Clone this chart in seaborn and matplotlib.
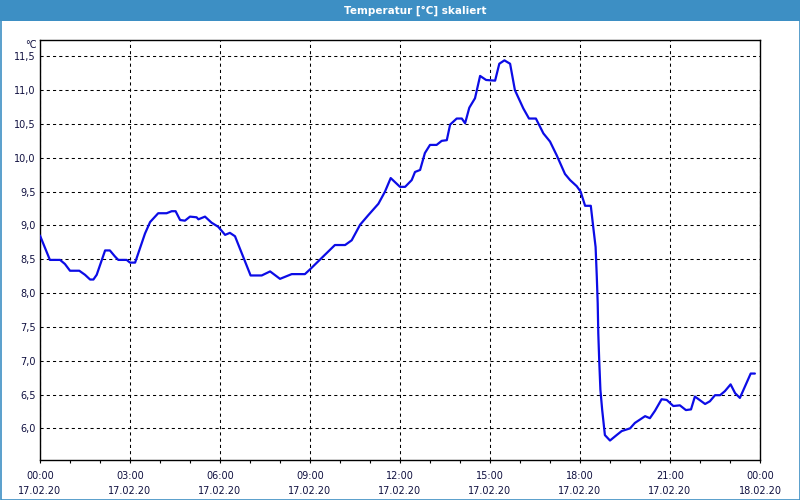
import matplotlib
matplotlib.use("Agg")
import matplotlib.pyplot as plt
import seaborn as sns
import pandas as pd
from matplotlib.patches import Rectangle
from matplotlib.ticker import FixedLocator, FixedFormatter, MultipleLocator

# ---- data ----
hours = [0.0, 0.33, 0.67, 0.83, 1.0, 1.31, 1.5, 1.67, 1.78, 1.89, 2.17, 2.33, 2.5, 2.61, 2.89,
         3.0, 3.17, 3.5, 3.67, 3.94, 4.22, 4.39, 4.52, 4.67, 4.83, 5.0, 5.22, 5.28, 5.5, 5.72,
         5.94, 6.17, 6.33, 6.5, 7.02, 7.39, 7.67, 8.0, 8.39, 8.83, 9.0, 9.83, 10.17, 10.39,
         10.67, 10.94, 11.28, 11.5, 11.69, 12.0, 12.17, 12.39, 12.5, 12.67, 12.83, 13.0, 13.22,
         13.39, 13.56, 13.67, 13.89, 14.06, 14.17, 14.31, 14.5, 14.67, 14.87, 15.17, 15.31,
         15.48, 15.67, 15.83, 16.11, 16.3, 16.53, 16.78, 17.0, 17.22, 17.5, 17.67, 17.89,
         18.02, 18.17, 18.36, 18.44, 18.52, 18.56, 18.59, 18.61, 18.64, 18.68, 18.74, 18.83,
         19.0, 19.22, 19.39, 19.67, 19.83, 20.0, 20.17, 20.33, 20.5, 20.72, 20.89, 21.11,
         21.33, 21.53, 21.7, 21.83, 22.17, 22.33, 22.5, 22.67, 22.83, 23.02, 23.17, 23.33,
         23.5, 23.69, 23.83]
temps = [8.85, 8.49, 8.49, 8.43, 8.33, 8.33, 8.27, 8.20, 8.20, 8.27, 8.63, 8.63, 8.54, 8.49, 8.49,
         8.45, 8.45, 8.88, 9.05, 9.18, 9.18, 9.21, 9.21, 9.08, 9.07, 9.13, 9.12, 9.09, 9.13, 9.04,
         8.98, 8.86, 8.89, 8.84, 8.26, 8.26, 8.32, 8.21, 8.28, 8.28, 8.35, 8.71, 8.71, 8.78,
         9.01, 9.15, 9.32, 9.50, 9.70, 9.57, 9.57, 9.67, 9.79, 9.82, 10.07, 10.19, 10.19,
         10.25, 10.26, 10.49, 10.58, 10.58, 10.51, 10.74, 10.88, 11.21, 11.15, 11.14, 11.39,
         11.44, 11.39, 11.00, 10.73, 10.58, 10.58, 10.36, 10.24, 10.04, 9.76, 9.67, 9.58,
         9.50, 9.29, 9.29, 8.98, 8.68, 8.24, 7.85, 7.40, 7.01, 6.57, 6.27, 5.90,
         5.82, 5.90, 5.96, 6.00, 6.08, 6.13, 6.18, 6.15, 6.26, 6.43, 6.42, 6.33,
         6.34, 6.27, 6.28, 6.47, 6.36, 6.40, 6.49, 6.49, 6.55, 6.65, 6.52, 6.45,
         6.62, 6.81, 6.81]

x_tick_pos = [0, 3, 6, 9, 12, 15, 18, 21, 24]
x_tick_labels = ["00:00\n17.02.20", "03:00\n17.02.20", "06:00\n17.02.20", "09:00\n17.02.20",
                 "12:00\n17.02.20", "15:00\n17.02.20", "18:00\n17.02.20", "21:00\n17.02.20",
                 "00:00\n18.02.20"]
y_tick_pos = [6.0, 6.5, 7.0, 7.5, 8.0, 8.5, 9.0, 9.5, 10.0, 10.5, 11.0, 11.5]
y_tick_labels = ["6,0", "6,5", "7,0", "7,5", "8,0", "8,5", "9,0", "9,5", "10,0", "10,5", "11,0", "11,5"]
title = "Temperatur [°C] skaliert"
unit = "°C"

df = pd.DataFrame({"hour": hours, "temp": temps})

sns.set_style("white")
plt.rcParams["font.family"] = ["DejaVu Sans"]

fig = plt.figure(figsize=(8, 5), dpi=100)
fig.patch.set_facecolor("white")

bar_color = "#3d8fc4"
fig.add_artist(Rectangle((0, 1 - 21 / 500), 1, 21 / 500, transform=fig.transFigure,
                         facecolor=bar_color, edgecolor="none", zorder=0))
fig.add_artist(Rectangle((0.5 / 800, 0.5 / 500), 1 - 1 / 800, 1 - 1 / 500, transform=fig.transFigure,
                         facecolor="none", edgecolor=bar_color, linewidth=1.2, zorder=5))
fig.text(415 / 800, 1 - 10.5 / 500, title, ha="center", va="center", color="white",
         fontsize=7.5, fontweight="bold")

ax = fig.add_axes([40 / 800, 40 / 500, 720 / 800, 420 / 500])
ax.set_facecolor("white")

sns.lineplot(data=df, x="hour", y="temp", ax=ax, color="#0c0ce6", linewidth=1.6,
             estimator=None, sort=False, zorder=3)

ax.set_xlim(0, 24)
ax.set_ylim(5.532, 11.741)
ax.set_xlabel("")
ax.set_ylabel("")

ax.xaxis.set_major_locator(FixedLocator(x_tick_pos))
ax.xaxis.set_major_formatter(FixedFormatter(x_tick_labels))
ax.xaxis.set_minor_locator(MultipleLocator(1))
ax.yaxis.set_major_locator(FixedLocator(y_tick_pos))
ax.yaxis.set_major_formatter(FixedFormatter(y_tick_labels))

label_color = "#101040"
ax.tick_params(axis="x", which="both", direction="out", length=2.5, width=0.8, color="black",
               bottom=True, pad=5.5, labelsize=7, labelcolor=label_color)
ax.tick_params(axis="y", which="both", length=0, pad=3, labelsize=7, labelcolor=label_color)
for lbl in ax.get_xticklabels():
    lbl.set_linespacing(1.55)

ax.grid(True, which="major", color="black", linestyle=(0, (3, 3)), linewidth=0.75)
ax.set_axisbelow(True)
for sp in ax.spines.values():
    sp.set_visible(True)
    sp.set_color("black")
    sp.set_linewidth(1.0)

fig.text(37 / 800, 1 - 45 / 500, unit, ha="right", va="center", color=label_color, fontsize=7)

fig.savefig("out.png", dpi=100, facecolor=fig.get_facecolor())
